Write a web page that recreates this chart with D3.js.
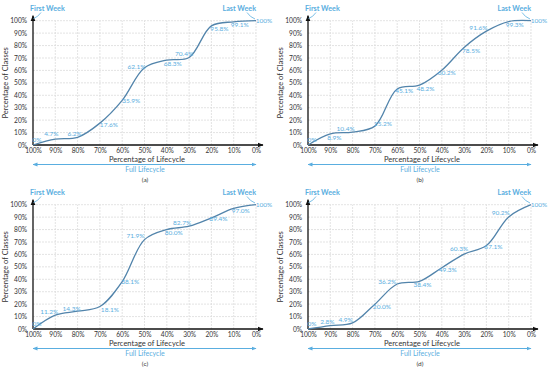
<!DOCTYPE html>
<html>
<head>
<meta charset="utf-8">
<script src="https://cdn.jsdelivr.net/npm/d3@7"></script>
<style>
  body { margin: 0; background: #fff; }
  svg { font-family: Lato, "Open Sans", sans-serif; }
</style>
</head>
<body>
<svg id="chart" width="550" height="370"></svg>
<script>
// DATA

var lifecycle = [100, 90, 80, 70, 60, 50, 40, 30, 20, 10, 0];
var classTicks = [0, 10, 20, 30, 40, 50, 60, 70, 80, 90, 100];
var panelNames = ["(a)", "(b)", "(c)", "(d)"];

var seriesA = [0, 4.7, 6.2, 17.6, 35.9, 62.1, 68.3, 70.4, 95.8, 99.1, 100];
var seriesB = [0, 8.9, 10.4, 15.2, 45.1, 48.2, 60.2, 78.5, 91.6, 99.3, 100];
var seriesC = [0, 11.2, 14.3, 18.1, 38.1, 71.9, 80.0, 82.7, 89.4, 97.0, 100];
var seriesD = [0, 2.8, 4.9, 20.0, 36.2, 38.4, 49.3, 60.3, 67.1, 90.2, 100];

// label nudges (centre offset from the point), one per point
var nudgeA = [[4,-5],[-4,-5],[-3,-4],[9,2],[9,0],[-8,-1],[6,4],[-5,-4],[8,3],[6,3],[8,0]];
var nudgeB = [[4,-5],[4,4],[-7,-3],[8,-2],[7,2],[6,4],[5,3],[7,3],[-8,-3],[6,3],[8,0]];
var nudgeC = [[4,-5],[-6,-3],[-6,-3],[10,3],[8,0],[-9,-4],[7,3],[-7,-3],[7,1],[7,2],[8,0]];
var nudgeD = [[4,-5],[-3,-4],[-7,-3],[7,3],[-10,-2],[3,3],[6,2],[-5,-5],[7,1],[-8,-4],[8,0]];

var panels = [
  { name: panelNames[0], values: seriesA, nudge: nudgeA, ox: 0,   oy: 0 },
  { name: panelNames[1], values: seriesB, nudge: nudgeB, ox: 275, oy: 0 },
  { name: panelNames[2], values: seriesC, nudge: nudgeC, ox: 0,   oy: 184 },
  { name: panelNames[3], values: seriesD, nudge: nudgeD, ox: 275, oy: 184 }
];

var BLUE = "#5aaee0";
var LINE = "#5284ab";

var svg = d3.select("#chart");

var defs = svg.append("defs");
defs.append("marker")
  .attr("id", "blackArrow")
  .attr("viewBox", "0 0 10 10")
  .attr("refX", 9).attr("refY", 5)
  .attr("markerWidth", 6).attr("markerHeight", 6)
  .attr("markerUnits", "userSpaceOnUse")
  .attr("orient", "auto")
  .append("path").attr("d", "M0,1 L10,5 L0,9 Z").attr("fill", "#111");
defs.append("marker")
  .attr("id", "blueArrow")
  .attr("viewBox", "0 0 10 10")
  .attr("refX", 9).attr("refY", 5)
  .attr("markerWidth", 5).attr("markerHeight", 5)
  .attr("markerUnits", "userSpaceOnUse")
  .attr("orient", "auto-start-reverse")
  .append("path").attr("d", "M0,1 L10,5 L0,9 Z").attr("fill", BLUE);

var x = d3.scaleLinear().domain([100, 0]).range([33, 256]);
var y = d3.scaleLinear().domain([0, 100]).range([145, 20.7]);

var fmt = function(v){
  if (v === 0 || v === 100) return v + "%";
  return v.toFixed(1) + "%";
};

var drawPanel = function(p){
  var g = svg.append("g").attr("transform", "translate(" + p.ox + "," + p.oy + ")");

  // grid
  g.append("g").selectAll("line")
    .data(lifecycle.slice(1))
    .enter().append("line")
    .attr("x1", function(d){ return x(d); }).attr("x2", function(d){ return x(d); })
    .attr("y1", y(0)).attr("y2", y(100))
    .attr("stroke", "#dcdcdc").attr("stroke-width", 0.8).attr("stroke-dasharray", "2,1");
  g.append("g").selectAll("line")
    .data(classTicks.slice(1))
    .enter().append("line")
    .attr("x1", x(100)).attr("x2", x(0))
    .attr("y1", function(d){ return y(d); }).attr("y2", function(d){ return y(d); })
    .attr("stroke", "#dcdcdc").attr("stroke-width", 0.8).attr("stroke-dasharray", "2,1");

  // axes (ticks + labels from d3, domain replaced by arrows)
  var xAxis = d3.axisBottom(x).tickValues(lifecycle).tickSize(0).tickPadding(3)
    .tickFormat(function(d){ return d + "%"; });
  var gx = g.append("g").attr("transform", "translate(0," + y(0) + ")").call(xAxis);
  gx.select(".domain").remove();
  gx.selectAll("text").attr("font-size", 6.6).attr("fill", "#333").attr("font-family", "Lato");

  var yAxis = d3.axisLeft(y).tickValues(classTicks).tickSize(0).tickPadding(6)
    .tickFormat(function(d){ return d + "%"; });
  var gy = g.append("g").attr("transform", "translate(" + x(100) + ",0)").call(yAxis);
  gy.select(".domain").remove();
  gy.selectAll("text").attr("font-size", 6.6).attr("fill", "#333").attr("font-family", "Lato");

  g.append("line")
    .attr("x1", x(100)).attr("y1", y(0)).attr("x2", x(0) + 7).attr("y2", y(0))
    .attr("stroke", "#111").attr("stroke-width", 1.3).attr("marker-end", "url(#blackArrow)");
  g.append("line")
    .attr("x1", x(100)).attr("y1", y(0)).attr("x2", x(100)).attr("y2", y(100) - 5)
    .attr("stroke", "#111").attr("stroke-width", 1.3).attr("marker-end", "url(#blackArrow)");

  // axis titles
  g.append("text")
    .attr("x", 147).attr("y", 162)
    .attr("text-anchor", "middle").attr("font-size", 7.5).attr("fill", "#333")
    .text("Percentage of Lifecycle");
  g.append("text")
    .attr("transform", "translate(8," + y(50) + ") rotate(-90)")
    .attr("text-anchor", "middle").attr("font-size", 7.5).attr("fill", "#333")
    .text("Percentage of Classes");

  // the curve
  var line = d3.line()
    .x(function(d, i){ return x(lifecycle[i]); })
    .y(function(d){ return y(d); })
    .curve(d3.curveCatmullRom.alpha(0.5));
  g.append("path")
    .datum(p.values)
    .attr("d", line)
    .attr("fill", "none").attr("stroke", LINE).attr("stroke-width", 1.3);

  // value labels
  g.append("g").selectAll("text")
    .data(p.values)
    .enter().append("text")
    .attr("x", function(d, i){ return x(lifecycle[i]) + p.nudge[i][0]; })
    .attr("y", function(d, i){ return y(d) + p.nudge[i][1]; })
    .attr("dy", "0.35em")
    .attr("text-anchor", "middle")
    .attr("font-size", 6.5).attr("fill", BLUE)
    .text(fmt);

  // first / last week callouts
  g.append("text")
    .attr("x", 30).attr("y", 10.5)
    .attr("font-size", 7.2).attr("font-weight", "bold").attr("fill", BLUE)
    .text("First Week");
  g.append("path")
    .attr("d", "M41,12.5 Q38,17 33.5,18.5")
    .attr("fill", "none").attr("stroke", BLUE).attr("stroke-width", 0.8);
  g.append("text")
    .attr("x", 256).attr("y", 10.5).attr("text-anchor", "end")
    .attr("font-size", 7.2).attr("font-weight", "bold").attr("fill", BLUE)
    .text("Last Week");
  g.append("path")
    .attr("d", "M247,12.5 Q250,17 255,19")
    .attr("fill", "none").attr("stroke", BLUE).attr("stroke-width", 0.8);

  // full lifecycle span
  g.append("line")
    .attr("x1", x(100)).attr("x2", x(0)).attr("y1", 164.5).attr("y2", 164.5)
    .attr("stroke", BLUE).attr("stroke-width", 1)
    .attr("marker-start", "url(#blueArrow)").attr("marker-end", "url(#blueArrow)");
  g.append("text")
    .attr("x", 145).attr("y", 172)
    .attr("text-anchor", "middle").attr("font-size", 7).attr("fill", BLUE)
    .text("Full Lifecycle");

  g.append("text")
    .attr("x", 145).attr("y", 181.5)
    .attr("text-anchor", "middle").attr("font-size", 6.5).attr("fill", "#333")
    .text(p.name);
};

panels.forEach(drawPanel);
</script>
</body>
</html>
